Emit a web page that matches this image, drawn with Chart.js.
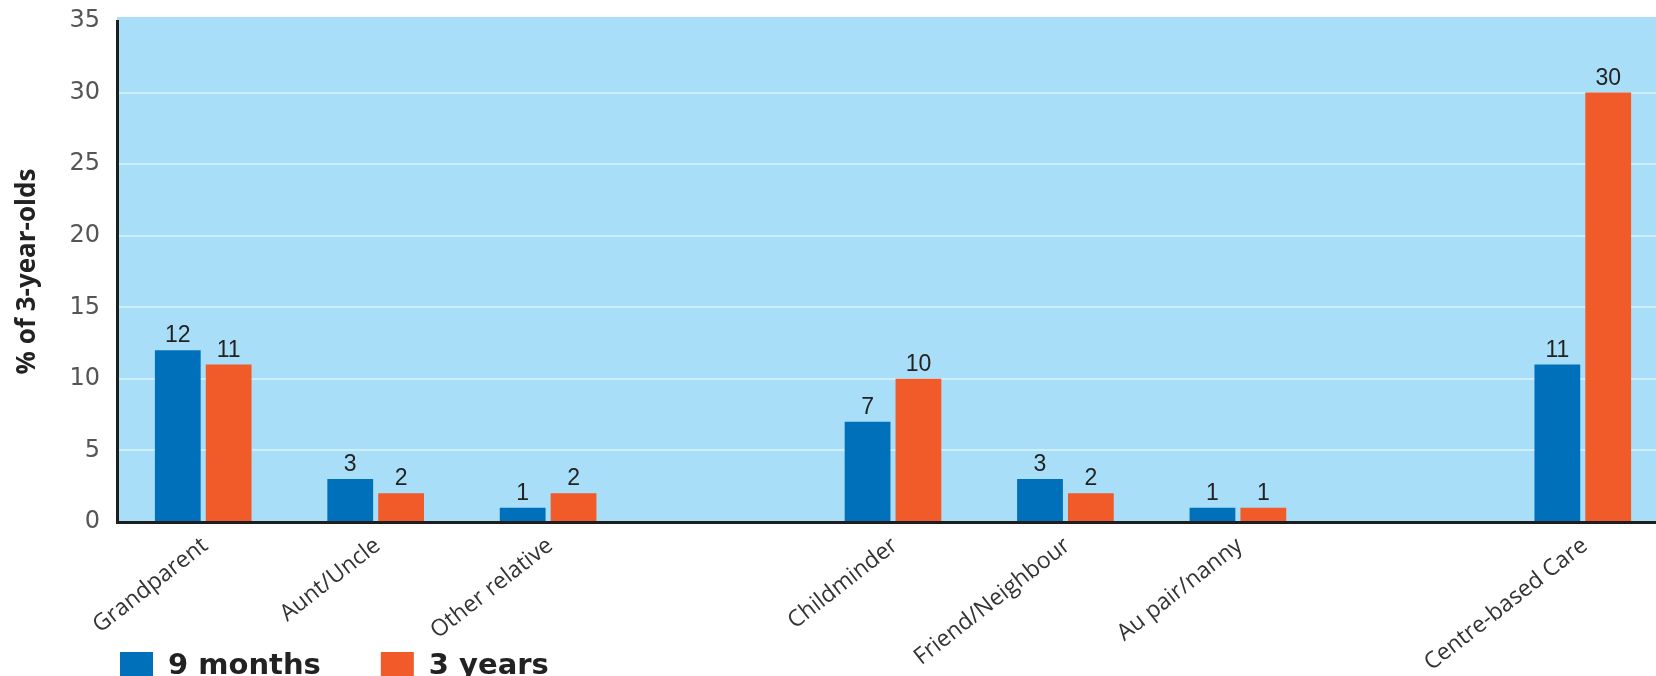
<!DOCTYPE html>
<html>
<head>
<meta charset="utf-8">
<title>Childcare arrangements</title>
<script src="https://cdn.jsdelivr.net/npm/chart.js@4.4.1/dist/chart.umd.min.js"></script>
<style>
  html, body { margin: 0; padding: 0; background: #fff; overflow: hidden; }
  /* the plot runs a little past the right edge of the page */
  #wrap { width: 1669px; height: 676px; position: relative; }
</style>
</head>
<body>
<div id="wrap"><canvas id="care-chart"></canvas></div>
<script>
const categories = ['Grandparent', 'Aunt/Uncle', 'Other relative', '', 'Childminder', 'Friend/Neighbour', 'Au pair/nanny', '', 'Centre-based Care'];
const nineMonths = [12, 3, 1, null, 7, 3, 1, null, 11];
const threeYears = [11, 2, 2, null, 10, 2, 1, null, 30];
const yTicks = [0, 5, 10, 15, 20, 25, 30, 35];
const seriesNames = ['9 months', '3 years'];

const BLUE = '#0070bb';
const ORANGE = '#f15a29';
const PANEL = '#a9def8';
const GRID = '#cdeefc';
const INK = '#1e1e1e';

// light blue panel behind the bars
const panelBackground = {
    id: 'panelBackground',
    beforeDraw(chart) {
        const { ctx, chartArea: a } = chart;
        ctx.save();
        ctx.fillStyle = PANEL;
        ctx.fillRect(a.left, a.top - 4, a.right - a.left, a.bottom - a.top + 4);
        ctx.restore();
    }
};

// numbers above each bar
const valueLabels = {
    id: 'valueLabels',
    afterDatasetsDraw(chart) {
        const ctx = chart.ctx;
        ctx.save();
        ctx.font = '23px "Liberation Sans", Arial, sans-serif';
        ctx.fillStyle = '#222';
        ctx.textAlign = 'center';
        ctx.textBaseline = 'alphabetic';
        chart.data.datasets.forEach((ds, i) => {
            chart.getDatasetMeta(i).data.forEach((bar, j) => {
                const v = ds.data[j];
                if (v === null || v === undefined) return;
                ctx.fillText(String(v), bar.x, bar.y - 8);
            });
        });
        ctx.restore();
    }
};

// legend in the bottom left corner, under the axis labels
const swatchLegend = {
    id: 'swatchLegend',
    afterDraw(chart) {
        const ctx = chart.ctx;
        const top = chart.height - 24;
        let x = chart.chartArea.left + 3;
        ctx.save();
        ctx.font = 'bold 29px "DejaVu Sans", Verdana, sans-serif';
        ctx.textBaseline = 'alphabetic';
        chart.data.datasets.forEach(ds => {
            ctx.fillStyle = ds.backgroundColor;
            ctx.fillRect(x, top, 33, 33);
            ctx.fillStyle = '#222';
            ctx.fillText(ds.label, x + 48, top + 22);
            x += 48 + ctx.measureText(ds.label).width + 60;
        });
        ctx.restore();
    }
};

new Chart(document.getElementById('care-chart'), {
    type: 'bar',
    data: {
        labels: categories,
        datasets: [
            { label: seriesNames[0], data: nineMonths, backgroundColor: BLUE },
            { label: seriesNames[1], data: threeYears, backgroundColor: ORANGE }
        ]
    },
    options: {
        responsive: true,
        maintainAspectRatio: false,
        animation: false,
        categoryPercentage: 0.59,
        barPercentage: 0.9,
        layout: { padding: { top: 21, right: 0, bottom: 0, left: 0 } },
        plugins: {
            legend: { display: false },
            tooltip: { enabled: false }
        },
        scales: {
            x: {
                grid: { display: false },
                border: { display: true, color: INK, width: 3 },
                ticks: {
                    autoSkip: false,
                    minRotation: 38,
                    maxRotation: 38,
                    padding: 2,
                    labelOffset: 2,
                    color: '#333',
                    font: { family: '"Open Sans", sans-serif', size: 23 }
                },
                afterFit(scale) { scale.height = 154; }
            },
            y: {
                min: 0,
                max: 35,
                afterBuildTicks(scale) {
                    scale.ticks = yTicks.map(v => ({ value: v }));
                },
                grid: {
                    color: c => (c.tick && c.tick.value > 0 && c.tick.value < 35) ? GRID : 'rgba(0,0,0,0)',
                    lineWidth: 2,
                    drawTicks: false
                },
                border: { display: true, color: INK, width: 3 },
                ticks: {
                    padding: 17,
                    color: '#555',
                    font: { family: '"DejaVu Sans", sans-serif', size: 24 }
                },
                title: {
                    display: true,
                    text: '% of 3-year-olds',
                    color: '#222',
                    font: { family: '"Open Sans", sans-serif', size: 26, weight: 'bold' },
                    padding: { top: 12, bottom: 0 }
                },
                afterFit(scale) {
                    scale.width = 117;
                    scale.paddingTop = 0;
                    scale.paddingBottom = 0;
                }
            }
        }
    },
    plugins: [panelBackground, valueLabels, swatchLegend]
});
</script>
</body>
</html>
